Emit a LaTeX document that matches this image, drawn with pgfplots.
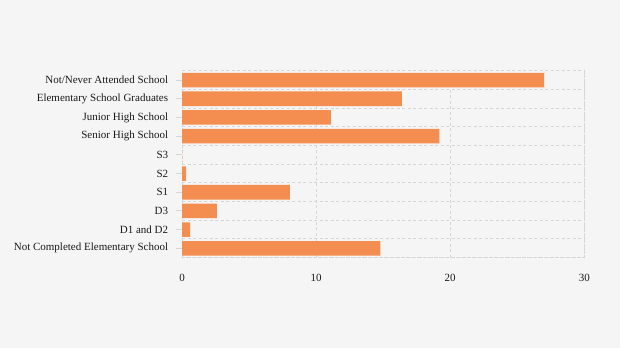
\documentclass[border=0pt]{standalone}
\usepackage{pgfplots}
\pgfplotsset{compat=1.18}
\usepackage{fontspec}
\setmainfont{Liberation Serif}
\definecolor{bg}{HTML}{F5F5F5}
\definecolor{bar}{HTML}{F38D50}
\definecolor{gridc}{HTML}{D6D6D6}
\pgfplotstableread{
idx value
0 14.8
1 0.6
2 2.6
3 8.05
4 0.3
5 0
6 19.2
7 11.1
8 16.4
9 27.0
}\datatable
\begin{document}
\fontsize{11bp}{13bp}\selectfont
\begin{tikzpicture}
\fill[bg] (0,0) rectangle (620bp,348bp);
\begin{axis}[
  at={(182bp,90.3bp)}, anchor=south west,
  scale only axis,
  width=402.3bp, height=187bp,
  xbar, bar width=0.78,
  xmin=0, xmax=30,
  ymin=-0.5, ymax=9.5,
  xtick={0,10,20,30},
  ytick={0,...,9},
  yticklabels={Not Completed Elementary School, D1 and D2, D3, S1, S2, S3, Senior High School, Junior High School, Elementary School Graduates, Not/Never Attended School},
  minor ytick={-0.5,0.5,...,9.5},
  xmajorgrids, yminorgrids,
  grid style={draw=gridc, line width=1bp, dash pattern=on 3bp off 2.5bp},
  minor grid style={draw=gridc, line width=1bp, dash pattern=on 3bp off 2.5bp},
  axis line style={draw=gridc, line width=1bp, dash pattern=on 3bp off 2.5bp},
  tick align=outside,
  ytick pos=left, xtick pos=bottom,
  y tick style={draw=gridc, line width=1bp},
  major tick length=6bp,
  minor tick length=0pt,
  x tick style={draw=none},
  xticklabel style={yshift=-7bp},
  yticklabel style={xshift=-4bp},
  tick label style={font=\fontsize{11bp}{13bp}\selectfont, text=black!90},
  /pgf/number format/assume math mode=true,
  axis background/.style={fill=bg},
  clip=false,
]
\addplot[fill=bar, draw=none] table[x=value, y=idx] {\datatable};
\end{axis}
\end{tikzpicture}
\end{document}
